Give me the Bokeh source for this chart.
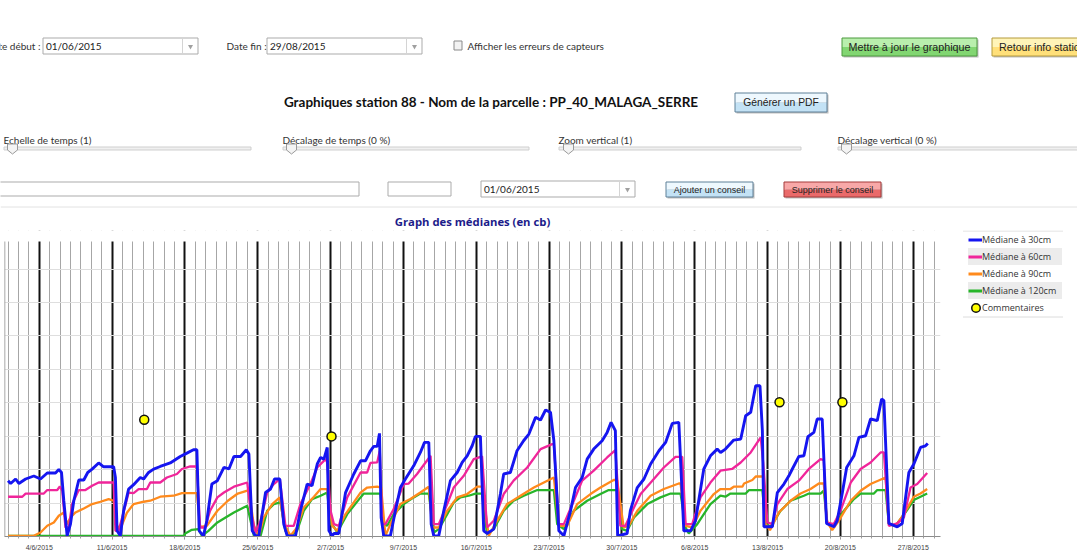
import pandas as pd
from bokeh.plotting import figure
from bokeh.models import (Range1d, FixedTicker, ColumnDataSource, Grid, Legend, LegendItem)
from bokeh.layouts import column, row
from bokeh.embed import file_html
from bokeh.resources import INLINE
from bokeh.core.properties import value

# ---------------- data ----------------
START = pd.Timestamp("2015-06-01")

days_30 = [0.0, 0.25, 0.73, 1.04, 1.69, 2.48, 3.12, 3.77, 4.56, 4.88, 5.14, 5.36, 5.68, 6.00, 6.32, 6.80, 7.28, 7.66, 8.08, 8.71,
           9.19, 10.15, 10.32, 10.48, 10.79, 11.11, 11.59, 12.07, 12.71, 13.03, 13.51, 13.99, 14.63, 15.59, 16.55, 17.19, 17.82, 18.15, 18.37, 18.78,
           19.11, 19.59, 20.12, 20.75, 21.23, 21.71, 22.35, 22.90, 23.15, 23.47, 23.79, 24.10, 24.75, 25.23, 25.61, 26.12, 26.50, 26.83, 27.63, 28.10,
           28.75, 29.22, 29.72, 30.04, 30.36, 30.68, 30.84, 31.16, 31.32, 31.79, 32.44, 33.23, 33.88, 34.35, 34.83, 35.15, 35.48, 35.70, 35.86, 36.11,
           36.75, 37.23, 37.71, 38.19, 38.99, 39.63, 40.03, 40.44, 40.67, 40.92, 41.40, 41.88, 42.52, 43.17, 43.65, 44.13, 44.61, 44.92, 45.40, 45.72,
           46.04, 46.68, 47.32, 47.64, 48.28, 48.92, 49.55, 50.06, 50.70, 51.18, 51.66, 52.14, 52.46, 52.94, 53.42, 54.06, 54.54, 55.18, 55.66, 56.29,
           57.10, 57.58, 57.96, 58.37, 58.59, 59.50, 59.81, 60.48, 61.12, 61.76, 62.56, 63.20, 63.84, 64.47, 64.95, 65.60, 66.07, 66.87, 67.51, 68.16,
           68.48, 68.95, 69.75, 70.42, 70.90, 71.38, 71.86, 72.27, 72.50, 72.65, 73.46, 73.94, 74.57, 75.05, 75.38, 76.01, 76.49, 76.87, 77.45, 77.77,
           78.25, 78.67, 79.37, 79.69, 80.19, 80.60, 81.30, 81.78, 82.42, 82.90, 83.54, 83.96, 84.18, 84.66, 85.46, 85.94, 86.58, 87.06, 87.70, 88.18,
           88.40]
med_30 = [33.4, 31.7, 34.4, 31.7, 34.4, 36.2, 34.4, 38.0, 38.0, 40.1, 38.3, 21.4, 0.4, 7.4, 21.4, 33.8, 33.8, 38.3, 40.3, 44.0,
          41.7, 41.7, 35.3, 3.4, 0.4, 15.4, 28.4, 31.0, 35.3, 34.4, 38.3, 40.3, 41.9, 44.0, 47.9, 49.9, 51.9, 51.9, 3.4, 0.4,
          9.4, 31.4, 33.4, 41.3, 40.4, 47.9, 47.9, 51.9, 49.3, 3.4, 0.4, 0.4, 26.3, 28.4, 34.4, 34.4, 7.4, 0.4, 0.4, 15.4,
          31.4, 30.4, 43.4, 47.3, 46.3, 53.3, 3.4, 0.4, 1.8, 1.8, 26.3, 37.4, 45.3, 45.3, 51.3, 53.9, 53.9, 61.7, 11.4, 0.4,
          0.4, 15.4, 29.3, 34.4, 42.3, 50.3, 56.3, 56.3, 7.4, 0.4, 0.4, 15.4, 33.4, 38.3, 44.3, 48.3, 54.3, 59.9, 59.9, 3.4,
          1.8, 4.4, 25.4, 37.4, 38.3, 51.3, 57.3, 61.3, 71.3, 69.7, 75.7, 74.3, 57.3, 3.4, 0.4, 15.4, 29.3, 35.3, 46.3, 52.3,
          57.3, 62.3, 68.3, 63.3, 0.4, 1.8, 15.4, 29.3, 34.4, 43.4, 51.3, 56.3, 67.7, 68.3, 3.4, 3.4, 9.4, 40.4, 48.3, 52.3,
          50.3, 52.3, 57.7, 58.3, 72.3, 74.3, 90.2, 90.2, 63.3, 5.8, 5.8, 26.3, 31.4, 36.3, 40.4, 47.9, 48.3, 59.7, 62.3, 70.3,
          70.3, 7.8, 5.8, 9.4, 26.3, 41.3, 48.3, 59.3, 60.3, 70.3, 69.3, 82.3, 81.3, 7.8, 5.8, 7.8, 38.3, 43.4, 53.3, 54.3,
          55.7]

days_60 = [0.0, 1.37, 1.69, 3.44, 3.77, 4.73, 4.98, 5.21, 5.52, 5.84, 6.16, 6.80, 7.44, 8.08, 8.71, 10.15, 10.32, 10.63, 11.27, 11.59,
           12.07, 12.55, 13.35, 13.67, 14.63, 15.27, 16.23, 16.71, 17.51, 18.15, 18.46, 18.94, 19.42, 20.12, 20.75, 21.71, 22.99, 23.31, 23.79, 24.27,
           24.91, 25.54, 26.12, 26.66, 27.46, 28.10, 29.06, 29.72, 30.52, 30.68, 31.00, 31.32, 31.79, 32.60, 33.88, 34.52, 34.83, 35.48, 35.73, 35.96,
           36.27, 37.07, 38.03, 38.51, 39.31, 40.61, 40.92, 41.40, 42.21, 42.84, 43.80, 44.76, 45.56, 46.04, 46.68, 47.64, 48.59, 49.90, 51.18, 52.30,
           52.46, 52.94, 53.42, 54.38, 55.18, 56.29, 57.58, 58.37, 58.85, 59.33, 60.16, 60.80, 61.92, 63.03, 64.15, 64.80, 65.12, 65.76, 66.55, 67.51,
           68.47, 69.59, 70.42, 71.38, 72.34, 72.59, 72.98, 73.46, 73.94, 74.90, 76.01, 76.97, 78.09, 78.40, 78.66, 79.37, 80.01, 80.99, 81.94, 82.90,
           83.86, 84.18, 84.66, 85.46, 86.10, 86.74, 87.38, 88.34]
med_60 = [23.8, 23.8, 25.7, 25.7, 27.8, 27.8, 29.9, 27.4, 5.4, 5.4, 19.4, 27.8, 27.8, 30.4, 32.3, 32.3, 3.4, 3.4, 18.4, 26.3,
          26.0, 28.4, 28.4, 32.3, 32.3, 35.3, 37.4, 40.4, 41.9, 41.9, 5.4, 5.4, 15.4, 23.4, 26.3, 29.8, 32.3, 15.4, 2.4, 9.4,
          26.3, 31.4, 34.4, 6.4, 6.4, 19.4, 31.4, 41.3, 46.3, 44.3, 15.4, 7.4, 6.4, 23.4, 38.3, 38.3, 44.0, 44.3, 51.3, 7.4,
          7.4, 16.4, 31.4, 31.7, 37.4, 48.3, 7.4, 7.4, 19.4, 29.3, 36.3, 46.3, 47.9, 5.4, 9.4, 25.4, 33.4, 41.3, 52.3, 55.3,
          55.3, 7.4, 7.4, 21.4, 33.4, 39.4, 47.3, 51.7, 6.4, 6.4, 17.4, 25.4, 33.4, 41.3, 47.7, 47.7, 7.4, 7.4, 23.4, 32.3,
          39.4, 40.4, 44.3, 50.3, 59.3, 43.4, 8.4, 7.4, 19.4, 28.4, 33.4, 40.4, 46.3, 45.7, 8.4, 7.4, 15.4, 32.3, 40.4, 44.3,
          50.3, 50.3, 6.4, 7.8, 11.4, 29.3, 31.4, 38.0]

days_90 = [0.0, 2.48, 3.12, 3.77, 4.40, 4.88, 5.36, 5.68, 6.00, 6.48, 7.28, 8.08, 8.88, 9.67, 10.15, 10.48, 10.79, 11.44, 12.07, 13.03,
           13.67, 14.63, 15.91, 16.71, 18.15, 18.46, 19.11, 20.12, 21.13, 22.08, 23.15, 23.63, 24.10, 24.58, 25.39, 26.12, 26.50, 27.14, 27.78, 28.42,
           29.40, 30.04, 30.68, 31.16, 31.64, 32.44, 33.23, 33.88, 34.52, 35.48, 35.86, 36.27, 36.75, 37.71, 38.67, 39.63, 40.44, 40.77, 41.40, 42.21,
           43.17, 44.13, 45.09, 45.56, 46.20, 47.00, 47.96, 49.25, 50.54, 51.98, 52.46, 52.94, 53.74, 54.70, 55.98, 56.94, 58.21, 58.54, 59.17, 59.65,
           60.48, 61.76, 63.03, 64.47, 64.64, 65.12, 65.76, 66.55, 67.83, 68.47, 69.43, 69.75, 70.58, 70.74, 71.54, 71.86, 72.59, 72.81, 73.23, 74.09,
           75.21, 76.17, 77.13, 77.93, 78.40, 78.73, 79.21, 79.84, 80.99, 81.94, 82.90, 84.34, 84.66, 85.30, 86.10, 87.05, 87.70, 88.34]
med_90 = [0.4, 0.4, 2.4, 6.4, 8.4, 12.4, 14.4, 7.4, 11.4, 14.4, 16.8, 19.4, 20.8, 22.4, 21.4, 6.4, 4.4, 14.4, 19.4, 20.8,
          21.4, 23.8, 24.4, 26.0, 26.0, 5.8, 6.4, 15.4, 21.4, 25.7, 27.8, 6.4, 0.4, 11.4, 19.4, 23.4, 8.4, 0.4, 5.4, 17.4,
          23.8, 28.4, 28.4, 6.4, 3.4, 13.4, 20.4, 26.3, 29.3, 29.8, 29.3, 0.4, 7.4, 19.4, 22.4, 26.3, 29.8, 5.4, 5.4, 15.4,
          23.4, 25.4, 29.8, 29.8, 0.4, 9.4, 19.4, 24.4, 29.3, 33.8, 35.3, 6.4, 6.4, 19.4, 25.4, 29.3, 33.8, 33.8, 5.4, 6.4,
          15.4, 24.4, 28.4, 31.7, 31.7, 6.4, 5.4, 15.4, 25.4, 28.4, 28.4, 29.8, 29.8, 31.7, 33.8, 35.9, 35.9, 7.4, 3.8, 14.4,
          21.4, 25.7, 28.4, 31.7, 31.7, 8.4, 3.8, 9.4, 21.4, 27.4, 31.4, 35.3, 7.4, 6.4, 13.4, 23.8, 25.7, 28.4]

days_120 = [0.0, 16.93, 17.03, 17.67, 18.30, 18.63, 19.26, 20.12, 20.91, 21.71, 22.99, 23.63, 24.27, 24.91, 25.54, 26.18, 26.66, 27.14, 27.78, 28.42,
            29.22, 30.04, 30.68, 31.00, 31.32, 31.64, 32.60, 33.88, 34.19, 35.79, 36.11, 36.44, 37.07, 38.03, 38.99, 39.63, 40.44, 40.92, 41.40, 42.21,
            42.84, 43.48, 44.28, 44.92, 45.56, 46.04, 46.68, 47.64, 48.59, 49.57, 50.87, 52.46, 52.78, 53.42, 54.38, 55.66, 56.94, 57.73, 58.54, 59.02,
            59.50, 60.16, 61.44, 62.71, 63.68, 64.64, 65.12, 65.43, 66.24, 67.51, 68.47, 68.95, 69.43, 70.90, 71.22, 72.50, 72.81, 73.29, 74.25, 75.21,
            76.49, 76.97, 78.09, 78.40, 78.73, 79.37, 80.34, 81.30, 81.94, 83.22, 83.54, 84.34, 84.66, 85.30, 86.26, 87.05, 87.70, 88.34]
med_120 = [0.4, 0.4, 1.8, 4.0, 4.4, 0.4, 3.4, 8.4, 11.4, 14.4, 18.4, 0.4, 0.4, 15.4, 19.4, 20.4, 3.4, 0.4, 3.4, 15.4,
           22.4, 24.4, 26.3, 7.4, 5.8, 2.4, 13.4, 23.4, 25.7, 25.7, 7.4, 6.4, 13.4, 19.4, 23.4, 25.7, 25.7, 2.4, 4.4, 13.4,
           20.4, 23.4, 24.4, 25.7, 25.7, 1.4, 4.4, 15.4, 21.4, 24.4, 27.8, 27.8, 7.4, 4.4, 15.4, 21.4, 25.4, 27.8, 27.8, 4.4,
           3.4, 11.4, 19.4, 23.4, 25.7, 25.7, 5.4, 1.8, 7.4, 19.4, 24.4, 23.8, 25.7, 25.7, 27.8, 27.8, 7.4, 5.8, 15.4, 21.4,
           24.4, 25.7, 25.7, 27.4, 8.4, 6.4, 15.4, 22.4, 25.7, 25.7, 27.8, 27.8, 7.4, 6.4, 14.4, 21.8, 23.8, 25.7]

comment_days = [13.09, 31.09, 74.15, 80.19]
comment_vals = [69.9, 59.9, 80.3, 80.3]

series_names = ["Médiane à 30cm", "Médiane à 60cm", "Médiane à 90cm", "Médiane à 120cm"]
series_colors = ["#1515f0", "#f0259a", "#ff8a1c", "#27b52a"]
comment_name = "Commentaires"
chart_title = "Graph des médianes (en cb)"

tick_dates = ["2015-06-04", "2015-06-11", "2015-06-18", "2015-06-25", "2015-07-02", "2015-07-09", "2015-07-16",
              "2015-07-23", "2015-07-30", "2015-08-06", "2015-08-13", "2015-08-20", "2015-08-27"]
tick_labels = ["4/6/2015", "11/6/2015", "18/6/2015", "25/6/2015", "2/7/2015", "9/7/2015", "16/7/2015",
               "23/7/2015", "30/7/2015", "6/8/2015", "13/8/2015", "20/8/2015", "27/8/2015"]
y_ticks = [0, 20, 40, 60, 80, 100, 120, 140, 160]
y_top = 176.5

# ---------------- header (form controls) ----------------
hdr = figure(width=1077, height=208, x_range=Range1d(0, 1077), y_range=Range1d(208, 0),
             x_axis_location=None, y_axis_location=None, toolbar_location=None,
             output_backend="svg", min_border=0, outline_line_color=None)
hdr.grid.visible = False


def box(p, l, r, t, b, fill="#ffffff", line="#ababab", lw=1):
    p.quad(left=[l], right=[r], top=[t], bottom=[b], fill_color=fill, line_color=line, line_width=lw)


def txt(p, x, y, s, size="10px", font="Lato", color="#333333", align="left", style="normal"):
    p.text(x=[x], y=[y], text=[s], text_font=value(font), text_font_size=size, text_color=color,
           text_align=align, text_baseline="middle", text_font_style=style)


def select(p, l, r, t, b, label):
    box(p, l, r, t, b)
    p.segment(x0=[r - 15.5], y0=[t + 1], x1=[r - 15.5], y1=[b - 1], line_color="#d4d4d4")
    p.scatter(x=[r - 7.5], y=[(t + b) / 2 + 0.5], marker="inverted_triangle", size=5,
              fill_color="#a0a0a0", line_color=None)
    if label:
        txt(p, l + 3, (t + b) / 2, label, "10px", "Lato", "#222222")


def button(p, l, r, t, b, ftop, fbot, border, label, size="10px", align="center"):
    p.quad(left=[l + 1.5], right=[r + 1.5], top=[t + 1.5], bottom=[b + 1.5], fill_color="#bdbdbd",
           line_color=None)
    m = (t + b) / 2
    p.quad(left=[l], right=[r], top=[t], bottom=[m], fill_color=ftop, line_color=None)
    p.quad(left=[l], right=[r], top=[m], bottom=[b], fill_color=fbot, line_color=None)
    p.quad(left=[l], right=[r], top=[t], bottom=[b], fill_color=None, line_color=border, line_width=1)
    if align == "center":
        txt(p, (l + r) / 2, m, label, size, "Liberation Sans", "#222222", "center")
    else:
        txt(p, l + 7, m, label, size, "Liberation Sans", "#222222", "left")


# row 1
txt(hdr, 40, 45, "Date début :", align="right")
select(hdr, 42.5, 197.5, 37.5, 53.5, "01/06/2015")
txt(hdr, 226, 45, "Date fin :")
select(hdr, 266.5, 421.5, 37.5, 53.5, "29/08/2015")
box(hdr, 453.5, 461.5, 40.5, 49.5, fill="#f2f2f2", line="#8a8a8a")
txt(hdr, 467, 45, "Afficher les erreurs de capteurs")
button(hdr, 841.5, 976.5, 37.5, 55.5, "#b9efad", "#82d672", "#4c9a3e", "Mettre à jour le graphique", "10.7px")
button(hdr, 991.5, 1100, 37.5, 55.5, "#fff4b8", "#ffe07a", "#b49a3c", "Retour info station", "10.7px", "left")

# row 2
txt(hdr, 490.5, 101, "Graphiques station 88 - Nom de la parcelle : PP_40_MALAGA_SERRE",
    "13.5px", "Lato", "#111111", "center", "bold")
button(hdr, 734.5, 826.5, 92.5, 111.5, "#eef8fe", "#c3e2f5", "#5f8098", "Générer un PDF", "10.3px")

# sliders
slider_labels = ["Echelle de temps (1)", "Décalage de temps (0 %)", "Zoom vertical (1)", "Décalage vertical (0 %)"]
slider_left = [3, 282, 558, 837]
slider_right = [250, 528, 800, 1085]
for lab, l, r in zip(slider_labels, slider_left, slider_right):
    txt(hdr, l, 139, lab)
    box(hdr, l + 0.5, r + 0.5, 146.5, 149.5, fill="#f0f0f0", line="#cfcfcf")
handle_x = [7, 286, 563, 841]
hdr.patches(xs=[[h, h + 10, h + 10, h + 5, h] for h in handle_x],
            ys=[[143.5, 143.5, 149.5, 153.5, 149.5] for _ in handle_x],
            fill_color="#f4f4f4", line_color="#9a9a9a", line_width=1)

# row 3
box(hdr, -2, 358.5, 181.5, 195.5)
box(hdr, 387.5, 450.5, 181.5, 195.5)
select(hdr, 480.5, 634.5, 180.5, 196.5, "01/06/2015")
button(hdr, 665.5, 752.5, 181.5, 196.5, "#eef8fe", "#c3e2f5", "#5f8098", "Ajouter un conseil", "9px")
button(hdr, 783.5, 880.5, 181.5, 196.5, "#f8a8a8", "#ea6a6a", "#a33a3a", "Supprimer le conseil", "9px")
hdr.segment(x0=[0], y0=[206.5], x1=[1077], y1=[206.5], line_color="#e2e2e2", line_width=1)

# ---------------- chart ----------------
x_start = START + pd.Timedelta(days=-0.34)
x_end = START + pd.Timedelta(days=89.62)
y_frame_top = 183.1
# frame begins 11px above the top of the plotted band (room for the legend alongside)
ch = figure(width=950, height=349, x_axis_type="datetime", x_range=Range1d(x_start, x_end),
            y_range=Range1d(0, y_frame_top), y_axis_location=None, toolbar_location=None,
            output_backend="svg", min_border_left=4, min_border_right=10, min_border_top=22,
            min_border_bottom=21, outline_line_color=None, title=chart_title)
ch.title.align = "center"
ch.title.text_font = "Open Sans"
ch.title.text_font_size = "11.3px"
ch.title.text_font_style = "bold"
ch.title.text_color = "#1c1c8a"
ch.title.standoff = 4

week_ms = [float(pd.Timestamp(d).value // 10**6) for d in tick_dates]
day_ms = [float(t.value // 10**6) for t in pd.date_range("2015-05-31", "2015-08-31", freq="D")]
xt = FixedTicker(ticks=week_ms, minor_ticks=day_ms)
ch.xaxis.ticker = xt
ch.xaxis.major_label_overrides = {t: lab for t, lab in zip(week_ms, tick_labels)}
ch.xaxis.major_label_text_font = "Liberation Sans"
ch.xaxis.major_label_text_font_size = "7px"
ch.xaxis.major_label_text_color = "#444444"
ch.xaxis.major_label_standoff = 4
ch.xaxis.axis_line_color = "#8c8c8c"
ch.xaxis.major_tick_line_color = "#8c8c8c"
ch.xaxis.major_tick_in = 0
ch.xaxis.major_tick_out = 3
ch.xaxis.minor_tick_line_color = "#a0a0a0"
ch.xaxis.minor_tick_in = 0
ch.xaxis.minor_tick_out = 2

ch.xgrid.ticker = xt
ch.xgrid.grid_line_color = "#111111"
ch.xgrid.grid_line_width = 2
ch.xgrid.minor_grid_line_color = "#a6a6a6"
ch.xgrid.minor_grid_line_width = 1
ch.ygrid.visible = False
ch.add_layout(Grid(dimension=1, ticker=FixedTicker(ticks=y_ticks), grid_line_color="#dedede",
                   grid_line_width=1), "center")

# white band above the plotted area (grid lines stop at the top of the value axis)
ch.quad(left=[x_start - pd.Timedelta(days=1)], right=[x_end + pd.Timedelta(days=1)],
        bottom=[y_top], top=[y_frame_top + 5], fill_color="#ffffff", line_color=None)
# left value-axis line
ch.segment(x0=[x_start], y0=[0], x1=[x_start], y1=[y_top], line_color="#8c8c8c", line_width=1.5)


def to_dt(days):
    return (START + pd.to_timedelta(days, unit="D")).to_numpy()


series = [(days_120, med_120, 3, 2.3), (days_90, med_90, 2, 2.3), (days_60, med_60, 1, 2.3), (days_30, med_30, 0, 2.9)]
for d, v, idx, w in series:
    src = ColumnDataSource(dict(x=to_dt(d), y=v))
    ch.line("x", "y", source=src, line_color=series_colors[idx], line_width=w)

csrc = ColumnDataSource(dict(x=to_dt(comment_days), y=comment_vals))
ch.scatter("x", "y", source=csrc, marker="circle", size=9, fill_color="#ffff00", line_color="#111111",
           line_width=1.5)

# ---------------- legend panel ----------------
lg = figure(width=127, height=349, x_range=Range1d(950, 1077), y_range=Range1d(536, 230),
            x_axis_location=None, y_axis_location=None, toolbar_location=None,
            output_backend="svg", min_border_left=0, min_border_right=0, min_border_top=22,
            min_border_bottom=21, outline_line_color=None)
lg.grid.visible = False
items = []
for name, color in zip(series_names, series_colors):
    r = lg.line(x=[-100, -99], y=[-100, -100], line_color=color, line_width=3)
    items.append(LegendItem(label=name, renderers=[r]))
# the comment marker of the legend is drawn at full size as a glyph below
rc = lg.scatter(x=[-100], y=[-100], marker="circle", size=9, fill_alpha=0.0, line_alpha=0.0)
items.append(LegendItem(label=comment_name, renderers=[rc]))
lg.segment(x0=[962.5, 962.5], y0=[230.5, 316.5], x1=[1062.5, 1062.5], y1=[230.5, 316.5],
           line_color="#dcdcdc", line_width=1)
lg.scatter(x=[975.5], y=[307.5], marker="circle", size=8.5, fill_color="#ffff00", line_color="#111111",
           line_width=1.5)
leg = Legend(items=items, location=(18, 220), orientation="vertical", padding=0, spacing=0, margin=0,
             glyph_width=14, glyph_height=17, label_height=17, label_width=80, label_standoff=0,
             label_text_font="Open Sans", label_text_font_size="9px", label_text_color="#333333",
             border_line_color=None, background_fill_alpha=0.0,
             item_background_policy="odd", item_background_fill_color="#ececec",
             item_background_fill_alpha=1.0)
lg.add_layout(leg, "center")

layout = column(hdr, row(ch, lg))
open("out.html", "w").write(file_html(layout, INLINE))
